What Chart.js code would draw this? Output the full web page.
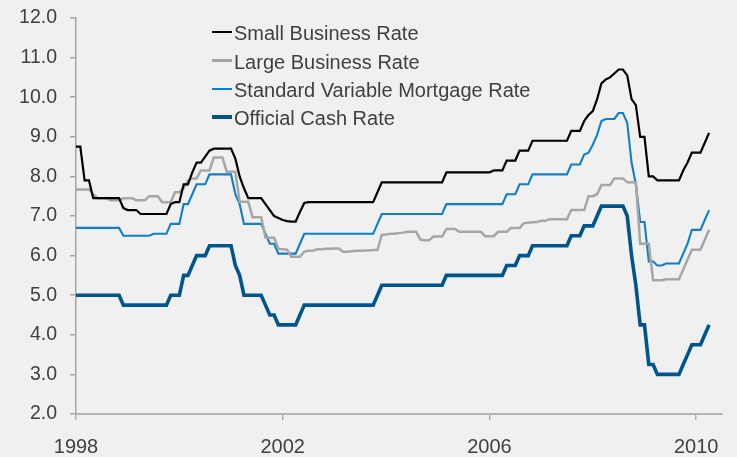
<!DOCTYPE html>
<html><head><meta charset="utf-8">
<script src="https://cdn.jsdelivr.net/npm/chart.js@4.4.1/dist/chart.umd.min.js"></script>
<style>
html,body{margin:0;padding:0;background:#f0f0f0;}
#wrap{position:relative;width:737px;height:457px;background:#f0f0f0;overflow:hidden;}
#c{position:absolute;left:0;top:0;}
#legend{position:absolute;left:0;top:0;font-family:"Liberation Sans",Arial,sans-serif;font-size:20px;color:#404040;}
.row{position:absolute;left:212px;height:28px;line-height:28px;white-space:nowrap;}
.sw{position:absolute;left:0;width:20px;}
.tx{position:absolute;left:22px;top:0;}
</style></head>
<body><div id="wrap"><canvas id="c" width="737" height="457"></canvas><div id="legend"></div></div>
<script>
// Monthly series, Jan 1998 .. Apr 2010 (one row per year)
const startYear = 1998;
const xTicks = [1998, 2002, 2006, 2010];
const seriesNames = ["Small Business Rate", "Large Business Rate", "Standard Variable Mortgage Rate", "Official Cash Rate"];

const smallBusiness = [
  8.75, 8.75, 7.9, 7.9, 7.45, 7.45, 7.45, 7.45, 7.45, 7.45, 7.45, 7.2,
  7.15, 7.15, 7.15, 7.05, 7.05, 7.05, 7.05, 7.05, 7.05, 7.05, 7.3, 7.35,
  7.35, 7.8, 7.8, 8.1, 8.35, 8.35, 8.5, 8.65, 8.7, 8.7, 8.7, 8.7,
  8.7, 8.45, 8.0, 7.7, 7.45, 7.45, 7.45, 7.45, 7.3, 7.15, 7.0, 6.95,
  6.9, 6.87, 6.86, 6.86, 7.1, 7.33, 7.35, 7.35, 7.35, 7.35, 7.35, 7.35,
  7.35, 7.35, 7.35, 7.35, 7.35, 7.35, 7.35, 7.35, 7.35, 7.35, 7.6, 7.85,
  7.85, 7.85, 7.85, 7.85, 7.85, 7.85, 7.85, 7.85, 7.85, 7.85, 7.85, 7.85,
  7.85, 7.85, 8.1, 8.1, 8.1, 8.1, 8.1, 8.1, 8.1, 8.1, 8.1, 8.1,
  8.1, 8.15, 8.15, 8.15, 8.4, 8.4, 8.4, 8.65, 8.65, 8.65, 8.9, 8.9,
  8.9, 8.9, 8.9, 8.9, 8.9, 8.9, 8.9, 9.15, 9.15, 9.15, 9.4, 9.55,
  9.65, 9.95, 10.35, 10.45, 10.5, 10.6, 10.7, 10.7, 10.55, 9.95, 9.8, 9.0,
  9.0, 8.0, 8.0, 7.9, 7.9, 7.9, 7.9, 7.9, 7.9, 8.15, 8.35, 8.6,
  8.6, 8.6, 8.85, 9.1
];
const largeBusiness = [
  7.67, 7.67, 7.67, 7.67, 7.55, 7.45, 7.45, 7.45, 7.4, 7.4, 7.4, 7.45,
  7.45, 7.45, 7.4, 7.4, 7.4, 7.5, 7.5, 7.5, 7.35, 7.35, 7.35, 7.6,
  7.6, 7.7, 7.9, 7.95, 7.95, 8.15, 8.15, 8.15, 8.48, 8.48, 8.48, 8.12,
  8.12, 8.12, 7.36, 7.36, 7.36, 6.97, 6.97, 6.97, 6.45, 6.45, 6.45, 6.17,
  6.16, 6.15, 5.97, 5.97, 5.97, 6.1, 6.12, 6.12, 6.16, 6.16, 6.17, 6.17,
  6.18, 6.18, 6.1, 6.1, 6.11, 6.12, 6.12, 6.13, 6.13, 6.14, 6.14, 6.52,
  6.53, 6.55, 6.55, 6.57, 6.58, 6.6, 6.6, 6.6, 6.4, 6.39, 6.39, 6.48,
  6.48, 6.48, 6.67, 6.67, 6.67, 6.6, 6.6, 6.6, 6.6, 6.6, 6.6, 6.49,
  6.49, 6.49, 6.6, 6.6, 6.6, 6.7, 6.7, 6.7, 6.82, 6.83, 6.84, 6.85,
  6.88, 6.88, 6.92, 6.92, 6.92, 6.92, 6.92, 7.15, 7.15, 7.15, 7.15, 7.5,
  7.5, 7.55, 7.78, 7.78, 7.78, 7.95, 7.95, 7.95, 7.85, 7.85, 7.85, 6.3,
  6.3, 6.3, 5.38, 5.38, 5.38, 5.4, 5.4, 5.4, 5.4, 5.65, 5.9, 6.15,
  6.15, 6.15, 6.4, 6.65
];
const mortgage = [
  6.7, 6.7, 6.7, 6.7, 6.7, 6.7, 6.7, 6.7, 6.7, 6.7, 6.7, 6.5,
  6.5, 6.5, 6.5, 6.5, 6.5, 6.5, 6.55, 6.55, 6.55, 6.55, 6.8, 6.8,
  6.8, 7.3, 7.3, 7.55, 7.8, 7.8, 7.8, 8.05, 8.05, 8.05, 8.05, 8.05,
  8.05, 7.55, 7.3, 6.8, 6.8, 6.8, 6.8, 6.8, 6.55, 6.3, 6.3, 6.05,
  6.05, 6.05, 6.05, 6.05, 6.3, 6.55, 6.55, 6.55, 6.55, 6.55, 6.55, 6.55,
  6.55, 6.55, 6.55, 6.55, 6.55, 6.55, 6.55, 6.55, 6.55, 6.55, 6.8, 7.05,
  7.05, 7.05, 7.05, 7.05, 7.05, 7.05, 7.05, 7.05, 7.05, 7.05, 7.05, 7.05,
  7.05, 7.05, 7.3, 7.3, 7.3, 7.3, 7.3, 7.3, 7.3, 7.3, 7.3, 7.3,
  7.3, 7.3, 7.3, 7.3, 7.55, 7.55, 7.55, 7.8, 7.8, 7.8, 8.05, 8.05,
  8.05, 8.05, 8.05, 8.05, 8.05, 8.05, 8.05, 8.3, 8.3, 8.3, 8.55, 8.6,
  8.8, 9.05, 9.4, 9.45, 9.45, 9.45, 9.6, 9.6, 9.35, 8.35, 7.8, 6.85,
  6.85, 5.85, 5.85, 5.75, 5.75, 5.8, 5.8, 5.8, 5.8, 6.05, 6.3, 6.65,
  6.65, 6.65, 6.9, 7.15
];
const cashRate = [
  5.0, 5.0, 5.0, 5.0, 5.0, 5.0, 5.0, 5.0, 5.0, 5.0, 5.0, 4.75,
  4.75, 4.75, 4.75, 4.75, 4.75, 4.75, 4.75, 4.75, 4.75, 4.75, 5.0, 5.0,
  5.0, 5.5, 5.5, 5.75, 6.0, 6.0, 6.0, 6.25, 6.25, 6.25, 6.25, 6.25,
  6.25, 5.75, 5.5, 5.0, 5.0, 5.0, 5.0, 5.0, 4.75, 4.5, 4.5, 4.25,
  4.25, 4.25, 4.25, 4.25, 4.5, 4.75, 4.75, 4.75, 4.75, 4.75, 4.75, 4.75,
  4.75, 4.75, 4.75, 4.75, 4.75, 4.75, 4.75, 4.75, 4.75, 4.75, 5.0, 5.25,
  5.25, 5.25, 5.25, 5.25, 5.25, 5.25, 5.25, 5.25, 5.25, 5.25, 5.25, 5.25,
  5.25, 5.25, 5.5, 5.5, 5.5, 5.5, 5.5, 5.5, 5.5, 5.5, 5.5, 5.5,
  5.5, 5.5, 5.5, 5.5, 5.75, 5.75, 5.75, 6.0, 6.0, 6.0, 6.25, 6.25,
  6.25, 6.25, 6.25, 6.25, 6.25, 6.25, 6.25, 6.5, 6.5, 6.5, 6.75, 6.75,
  6.75, 7.0, 7.25, 7.25, 7.25, 7.25, 7.25, 7.25, 7.0, 6.0, 5.25, 4.25,
  4.25, 3.25, 3.25, 3.0, 3.0, 3.0, 3.0, 3.0, 3.0, 3.25, 3.5, 3.75,
  3.75, 3.75, 4.0, 4.25
];

// x position of each monthly observation, in decimal years
const months = smallBusiness.map((_, i) => startYear + i / 12);

const seriesValues = [smallBusiness, largeBusiness, mortgage, cashRate];
const seriesColors = ["#000000", "#a6a6a6", "#0f7fcc", "#00558f"];
const seriesWidths = [2.2, 2.5, 2.1, 3.6];

const FONT = '"Liberation Sans", Arial, sans-serif';
const TEXT = '#404040';

new Chart(document.getElementById('c').getContext('2d'), {
  type: 'line',
  data: {
    labels: months,
    datasets: seriesNames.map((n, i) => ({
      label: n,
      data: seriesValues[i],
      borderColor: seriesColors[i],
      backgroundColor: seriesColors[i],
      borderWidth: seriesWidths[i],
      pointRadius: 0,
      tension: 0,
      fill: false
    }))
  },
  options: {
    responsive: false,
    animation: false,
    devicePixelRatio: 1,
    layout: { padding: { top: 18, right: 15, left: 0, bottom: 0 } },
    plugins: { legend: { display: false }, tooltip: { enabled: false } },
    scales: {
      x: {
        type: 'linear', min: 1998, max: 2010.5,
        afterBuildTicks: s => { s.ticks = xTicks.map(v => ({ value: v })); },
        afterFit: s => { s.height = 43; s.paddingTop = 0; s.paddingBottom = 0; },
        grid: { drawOnChartArea: false, drawTicks: true, tickLength: 6, color: '#b0b0b0', lineWidth: 1.5 },
        border: { display: true, color: '#b4b4b4', width: 2 },
        ticks: { padding: 15, color: TEXT, font: { family: FONT, size: 20 }, maxRotation: 0, autoSkip: false, callback: v => String(v) }
      },
      y: {
        min: 2, max: 12,
        afterFit: s => { s.width = 76; s.paddingTop = 0; s.paddingBottom = 0; },
        grid: { drawOnChartArea: false, drawTicks: true, tickLength: 6, color: '#a6a6a6', lineWidth: 1.5 },
        border: { display: true, color: '#a6a6a6', width: 1.5 },
        ticks: { stepSize: 1, padding: 13, color: TEXT, font: { family: FONT, size: 19.5 }, callback: v => Number(v).toFixed(1) }
      }
    }
  }
});

// HTML legend (real text)
const leg = document.getElementById('legend');
seriesNames.forEach((n, i) => {
  const row = document.createElement('div');
  row.className = 'row';
  row.style.top = (33.3 + 28.33 * i - 14) + 'px';
  const sw = document.createElement('span');
  sw.className = 'sw';
  const h = Math.max(2, Math.round(seriesWidths[i]));
  sw.style.height = h + 'px';
  sw.style.top = (13 - h / 2) + 'px';
  sw.style.background = seriesColors[i];
  const tx = document.createElement('span');
  tx.className = 'tx';
  tx.textContent = n;
  row.appendChild(sw); row.appendChild(tx);
  leg.appendChild(row);
});
</script></body></html>
